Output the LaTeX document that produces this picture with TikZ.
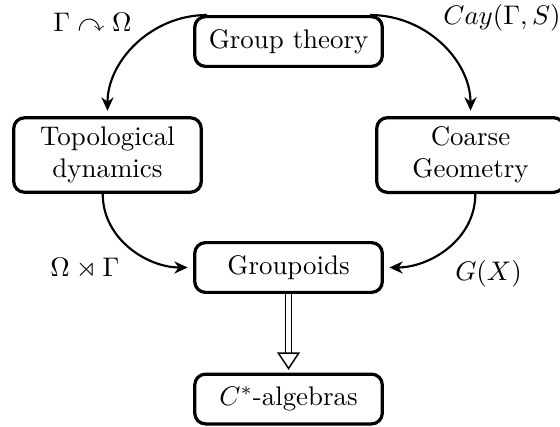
\documentclass[tikz,border=0pt]{standalone}
\usepackage{amssymb}
\usetikzlibrary{arrows.meta}
\begin{document}
\begin{tikzpicture}[box/.style={draw,very thick,rounded corners=4pt,minimum width=2.45cm,minimum height=0.65cm,align=center},
    link/.style={thick,-{Stealth[length=5pt,width=4.5pt]},shorten >=2pt}]
      \useasboundingbox (0,0) rectangle (7.315,-5.565);%

      \node[box] (GT) at (3.769,-0.542) {Group theory};%
      \node[box] (TD) at (1.404,-2.025) {Topological\\dynamics};%
      \node[box] (CG) at (6.146,-2.025) {Coarse\\Geometry};%
      \node[box] (GP) at (3.769,-3.494) {Groupoids};%
      \node[box] (CA) at (3.769,-5.212) {$C^*$-algebras};%

      \node (ACT) at (1.208,-0.287) {$\Gamma\curvearrowright\Omega$};%
      \node (CAY) at (6.558,-0.235) {$Cay(\Gamma,S)$};%
      \node (SDP) at (1.110,-3.507) {$\Omega\rtimes\Gamma$};%
      \node (GX) at (6.381,-3.573) {$G(X)$};%

      \draw[link] (GT.162) to[out=180,in=90] (TD.north);%
      \draw[link] (GT.18) to[out=0,in=90] (CG.north);%
      \draw[link] (TD.263) to[out=-90,in=180] (GP.west);%
      \draw[link] (CG.277) to[out=-90,in=0] (GP.east);%

      \draw[line width=0.55pt,double,double distance=1.6pt,-{Triangle[open,length=6.5pt,width=8.5pt]},shorten >=1pt] (GP) -- (CA);%
\end{tikzpicture}
\end{document}
